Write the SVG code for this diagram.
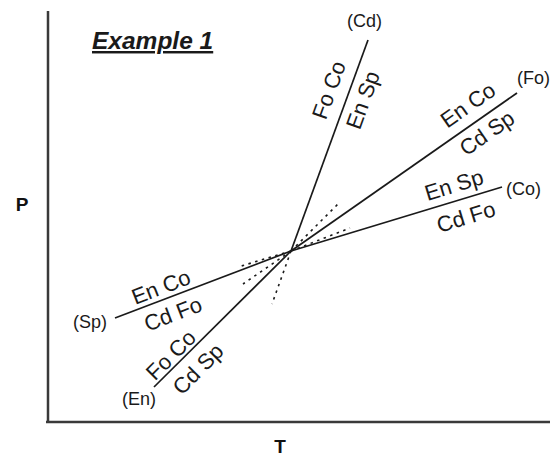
<svg xmlns="http://www.w3.org/2000/svg" width="550" height="456" viewBox="0 0 550 456">
<style>
.axis{stroke:#3a3a3a;stroke-width:2.5;fill:none}
.rx{stroke:#1a1a1a;stroke-width:1.7;fill:none}
.ms{stroke:#1a1a1a;stroke-width:1.6;fill:none;stroke-dasharray:2.5 4.5}
.lab{font-family:"Liberation Sans",Arial,sans-serif;font-size:22px;fill:#1a1a1a;text-anchor:middle;dominant-baseline:central}
.end{font-family:"Liberation Sans",Arial,sans-serif;font-size:18px;fill:#1a1a1a}
.ax{font-family:"Liberation Sans",Arial,sans-serif;font-size:19px;font-weight:bold;fill:#111}
</style>
<rect width="550" height="456" fill="#fff"/>
<g id="axes">
<line class="axis" x1="48" y1="11" x2="48" y2="422"/>
<line class="axis" x1="46" y1="422" x2="550" y2="422"/>
</g>
<text id="title" x="92" y="49" font-family="Liberation Sans,Arial,sans-serif" font-size="24.5" font-weight="bold" font-style="italic" text-decoration="underline" fill="#1a1a1a">Example 1</text>
<text id="P" class="ax" x="22" y="211" text-anchor="middle">P</text>
<text id="T" class="ax" x="280" y="453" text-anchor="middle">T</text>
<g id="connectors">
<line class="rx" x1="291" y1="251" x2="368" y2="40"/>
<line class="rx" x1="291" y1="251" x2="517" y2="93"/>
<line class="rx" x1="291" y1="251" x2="502" y2="187"/>
<line class="rx" x1="291" y1="251" x2="115" y2="318"/>
<line class="rx" x1="291" y1="251" x2="154" y2="387"/>
<line class="ms" x1="291" y1="251" x2="238" y2="267"/>
<line class="ms" x1="291" y1="251" x2="243" y2="284"/>
<line class="ms" x1="291" y1="251" x2="272" y2="304"/>
<line class="ms" x1="291" y1="251" x2="338" y2="204"/>
<line class="ms" x1="291" y1="251" x2="350" y2="228"/>
</g>
<g id="Cd">
<text class="end" x="347" y="27">(Cd)</text>
<text class="lab" transform="translate(329,90) rotate(-70)">Fo Co</text>
<text class="lab" transform="translate(363,100) rotate(-70)">En Sp</text>
</g>
<g id="Fo">
<text class="end" x="517" y="84">(Fo)</text>
<text class="lab" transform="translate(468,105) rotate(-35)">En Co</text>
<text class="lab" transform="translate(487,133) rotate(-35)">Cd Sp</text>
</g>
<g id="Co">
<text class="end" x="506" y="195">(Co)</text>
<text class="lab" transform="translate(454,185) rotate(-17)">En Sp</text>
<text class="lab" transform="translate(466,217) rotate(-17)">Cd Fo</text>
</g>
<g id="Sp">
<text class="end" x="73" y="328">(Sp)</text>
<text class="lab" transform="translate(161,287) rotate(-21)">En Co</text>
<text class="lab" transform="translate(173,314) rotate(-21)">Cd Fo</text>
</g>
<g id="En">
<text class="end" x="122" y="405">(En)</text>
<text class="lab" transform="translate(171,355) rotate(-45)">Fo Co</text>
<text class="lab" transform="translate(198,369) rotate(-45)">Cd Sp</text>
</g>
</svg>
